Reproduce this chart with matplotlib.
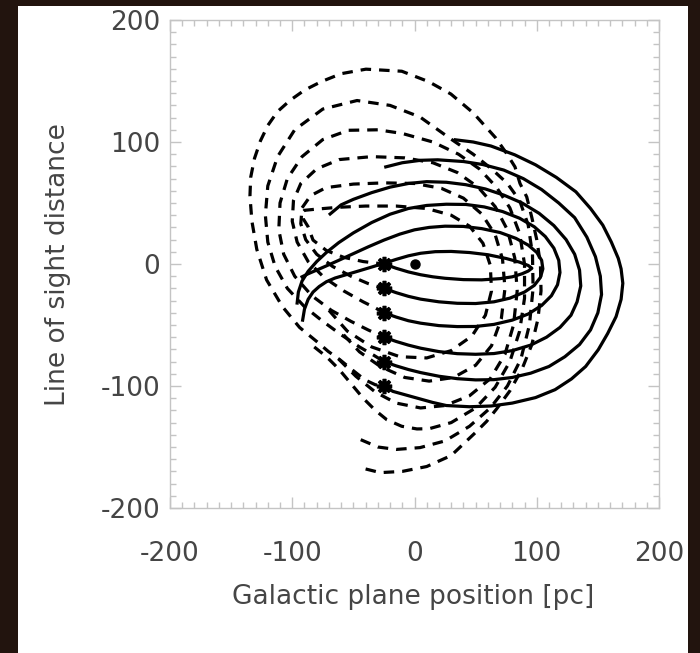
import matplotlib.pyplot as plt
from matplotlib.patches import Rectangle
from matplotlib.ticker import MultipleLocator

plt.rcParams['font.family'] = ['DejaVu Sans']
plt.rcParams['axes.unicode_minus'] = False

# cloud positions (asterisks) and the reference dot
star_x = [-25, -25, -25, -25, -25, -25]
star_y = [0, -20, -40, -60, -80, -100]
dot_x, dot_y = [0], [0]

# solid orbit segments, one per cloud (start at the asterisk)
solid_x = [
    [-25, -15, -5, 5, 15, 25, 40, 55, 70, 80, 88, 93, 96, 93, 86, 75, 60, 45, 30, 17, 5, -5, -15, -25,
     -35, -45, -55, -65, -72, -78, -83, -87, -90, -91.5],
    [-25, -15, -5, 5, 20, 35, 50, 65, 78, 90, 98, 103, 105, 104, 100, 93, 83, 70, 55, 40, 25, 12, 0,
     -12, -25, -38, -50, -62, -72, -80, -87, -92],
    [-25, -15, -5, 5, 20, 35, 50, 65, 80, 93, 104, 112, 117, 119, 118, 114, 107, 98, 86, 72, 57, 42, 26,
     10, -5, -20, -35, -50, -62, -72, -80, -87, -92, -95, -96],
    [-25, -15, -5, 5, 20, 35, 50, 65, 80, 95, 108, 119, 128, 133, 136, 135, 131, 124, 114, 102, 88, 73,
     58, 42, 26, 10, -5, -20, -35, -50, -60, -69],
    [-25, -15, -5, 5, 20, 35, 50, 65, 80, 95, 110, 123, 135, 144, 150, 153, 152, 148, 141, 131, 118, 104,
     89, 73, 56, 40, 19, 5, -10, -23.5],
    [-25, -17.7, 0.6, 15, 26, 45, 62.6, 80, 99, 115, 128.4, 140, 150.3, 158, 164.9, 169, 170.4, 169, 166.7,
     161, 154, 144, 132, 116, 99, 82, 62.6, 48, 33.4],
]
solid_y = [
    [0, -3.5, -6.5, -8.8, -10.5, -11.7, -12.8, -13, -12, -10.5, -8, -5.8, -3.5, -1.2, 1.5, 4.5, 7.6, 9.4,
     10.3, 10.1, 8.8, 6.7, 3.8, 0.6, -2.5, -5.5, -8.5, -11.5, -14.5, -18.5, -23, -29, -37, -46],
    [-20, -23.5, -26.5, -28.8, -31, -32.2, -32.4, -31, -28, -23, -17.5, -11, -4, 3, 9.5, 15.5, 21, 25.8,
     29, 30.8, 31, 30, 28, 24.5, 19.6, 14, 8.5, 3, -1.5, -5, -8, -10.5],
    [-40, -43.5, -46.5, -48.5, -50.5, -51.3, -51.2, -49.5, -46, -41, -34, -26, -17, -7, 3, 13, 22.5, 30.5,
     37.5, 43, 46.8, 48.8, 49, 48, 45.5, 40.8, 34, 25.5, 17.5, 9.5, 2, -6, -14, -23, -32],
    [-60, -63.5, -66.5, -69, -71.8, -73.5, -74, -73.4, -71, -66.5, -60, -52, -42, -31, -18, -5, 8, 20,
     31.5, 41.5, 50, 56.5, 61.5, 65, 67, 67.5, 66, 63, 58.5, 53, 48.5, 41],
    [-80, -83.5, -86.5, -89, -92, -94, -95, -94.8, -93, -89.5, -84, -76, -66, -54, -40, -25, -10, 6, 22,
     38, 50, 61, 70, 77, 81.5, 84, 85.4, 85, 83, 79.6],
    [-100, -104.4, -109.5, -113.5, -116, -117, -116.4, -114, -109.5, -103, -94.2, -84, -70.3, -57, -43.1,
     -29, -15.8, -4, 4.6, 18, 31.9, 45.5, 59.2, 71, 81.3, 89.5, 96.7, 100, 101.8],
]

# dashed orbit segments (earlier parts of the orbits, ending at the asterisks)
dashed_x = [
    [-40, -28, -10, 10, 30, 49.5, 59, 67, 78, 88, 96, 101, 103.5, 103, 100, 96, 91.8, 86.3, 82.2, 75.4,
     66.3, 48, 29.8, 11.5, -10.4, -39.7, -60, -76.2, -90, -101.7, -112, -119.9, -126, -130.9, -134,
     -134.6, -133, -129, -121, -108, -94, -80, -70.5, -61, -51, -40.5, -32, -25],
    [-44, -30, -15, 4.5, 25, 45, 62, 76, 87, 94, 97, 96.5, 93, 86, 76, 63, 48, 29, 4.5, -20, -47, -75,
     -98, -112, -120, -122, -120, -114, -104, -90, -75, -60, -45, -33, -25],
    [-82, -72, -62, -52, -42, -32, -22.7, -10.5, 2, 12, 30, 50, 66, 78, 86, 90, 90, 86, 78, 67, 53, 36,
     15, -10, -30, -54, -75, -92, -104, -110, -111, -107, -98, -84, -68, -52, -38, -25],
    [-62, -48, -32, -15, 5, 25, 45, 62, 74, 81, 84, 82, 76, 66, 52, 35, 15, -8, -35, -61.6, -80, -93,
     -99, -100, -96, -87, -74, -58, -42, -32, -25],
    [-58, -45, -28, -8, 12, 32, 50, 63, 71, 74, 72, 66, 55, 40, 22, 0, -25, -50, -72.4, -85, -92, -93,
     -89, -80, -67, -52, -38, -25],
    [-70, -55, -35, -12, 10, 30, 47, 58, 63, 62, 56, 45, 30, 10, -15, -40, -62, -80, -90, -92, -91, -87,
     -83, -72, -58, -42, -25],
]
dashed_y = [
    [-168, -171, -170, -166, -157, -138.5, -129, -119, -104, -86, -66, -45, -22, 0, 20, 38, 55, 66, 79.6,
     90.5, 103.5, 123.9, 139.3, 149.5, 158, 159.7, 156, 149.5, 142.5, 134.2, 125, 113.7, 101, 86.5, 71,
     55.8, 35, 12, -13, -35, -52, -63.5, -71.7, -78.5, -86.7, -95, -99, -100],
    [-144, -150, -152, -150.5, -145, -133, -118, -100, -78, -50, -20, 8, 32, 52, 66, 78, 90, 103, 120.5,
     130, 134, 127, 110, 88, 64, 40, 18, -2, -20, -35, -47, -58, -68, -75, -80],
    [-68, -76, -86, -98, -110, -120, -127.6, -133, -135.2, -135, -130, -118, -101, -80, -55, -28, 0, 25,
     46, 63, 78, 90, 100, 107, 110, 109.6, 102, 88, 70, 50, 28, 8, -10, -26, -38, -47, -54, -60],
    [-78, -92, -105, -114, -118, -116, -108, -94, -74, -50, -22, 5, 28, 47, 63, 75, 83, 87, 88, 85.6, 78,
     66, 52, 35, 18, 2, -11, -22, -31, -36, -40],
    [-58, -72, -84, -93, -96, -93, -83, -67, -45, -20, 4, 24, 41, 54, 62, 66, 66.5, 65.5, 62.6, 56, 46,
     33, 20, 8, -2, -10, -16, -20],
    [-38, -55, -68, -76, -77, -71, -59, -42, -22, -1, 17, 31, 40, 45.5, 47.5, 47.5, 46.5, 45, 44, 42, 37,
     30.5, 19.6, 11, 5.5, 2, 0],
]

fig = plt.figure(figsize=(7, 6.53), dpi=100, facecolor='#22140e')
fig.patches.append(Rectangle((18 / 700, 0), 670 / 700, 647 / 653, transform=fig.transFigure,
                             facecolor='white', edgecolor='none', zorder=-10))
ax = fig.add_axes([170 / 700, 145 / 653, 489 / 700, 488 / 653])
ax.set_zorder(5)

for xs, ys in zip(dashed_x, dashed_y):
    ax.plot(xs, ys, color='black', lw=2.3, dashes=(3.3, 2.5), dash_capstyle='butt')
for xs, ys in zip(solid_x, solid_y):
    ax.plot(xs, ys, color='black', lw=2.3, solid_joinstyle='round')

ax.plot(star_x, star_y, ls='none', marker=(8, 2, 0), ms=11, mew=2.6, color='black')
ax.plot(dot_x, dot_y, ls='none', marker='o', ms=6.5, color='black')

ax.set_xlim(-200, 200)
ax.set_ylim(-200, 200)
ax.set_xticks([-200, -100, 0, 100, 200])
ax.set_yticks([-200, -100, 0, 100, 200])
ax.xaxis.set_minor_locator(MultipleLocator(10))
ax.yaxis.set_minor_locator(MultipleLocator(10))
ax.tick_params(which='both', direction='in', top=True, right=True, color='#c4c4c4',
               labelcolor='#454545', labelsize=19)
ax.tick_params(which='major', length=8, width=1)
ax.tick_params(which='minor', length=4, width=1)
ax.tick_params(axis='x', pad=24)
ax.tick_params(axis='y', pad=7)
for s in ax.spines.values():
    s.set_color('#c4c4c4')
    s.set_linewidth(1)

fig.text(413 / 700, 1 - 597 / 653, 'Galactic plane position [pc]', ha='center', va='center',
         fontsize=19, color='#454545')
fig.text(58 / 700, 1 - 265 / 653, 'Line of sight distance', ha='center', va='center',
         rotation=90, fontsize=19, color='#454545')

fig.savefig('out.png', dpi=100, facecolor=fig.get_facecolor())
